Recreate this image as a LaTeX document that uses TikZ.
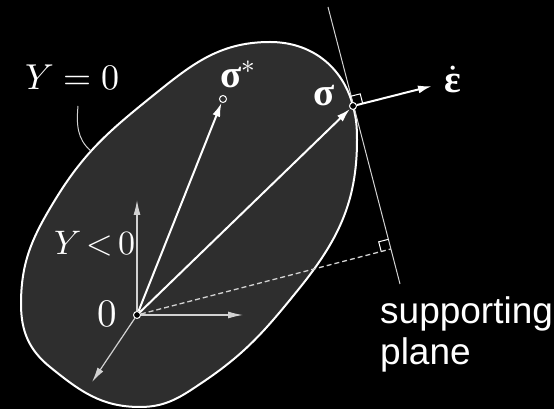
\documentclass[tikz,border=0pt]{standalone}
\usepackage{fontspec}
\usepackage{unicode-math}
\newfontfamily\labelsans{Liberation Sans}
\newfontfamily\grkbold{Liberation Serif}
\newcommand{\bsig}{\hbox{\grkbold\bfseries σ}}
\newcommand{\beps}{\hbox{\grkbold\bfseries ε}}
\usetikzlibrary{arrows.meta,calc}
\definecolor{shade}{HTML}{2E2E2E}
\definecolor{lgray}{HTML}{D2D2D2}
\begin{document}
\begin{tikzpicture}[x=1pt,y=1pt,
  bigmath/.style={font=\fontsize{36}{40}\selectfont, text=white, inner sep=0pt},
  boldmath/.style={font=\fontsize{39}{44}\selectfont, text=white, inner sep=0pt},
  sanslab/.style={font=\labelsans\fontsize{37}{41}\selectfont, text=white, inner sep=0pt},
  vec/.style={draw=white, line width=2pt, -{Latex[length=14pt,width=8pt]}},
  axis/.style={draw=lgray, line width=1.2pt, -{Latex[length=15pt,width=7pt]}},
  thinline/.style={draw=lgray, line width=1pt},
  dot/.style={circle, draw=white, fill=black, line width=1pt, minimum size=7pt, inner sep=0pt},
  hollow/.style={circle, draw=white, fill=shade, line width=1pt, minimum size=7pt, inner sep=0pt},
]
\path[use as bounding box, fill=black] (0,0) rectangle (554,409);
% yield surface
\coordinate (eA) at (140,2);
\coordinate (eA2) at (203,27);
\coordinate (eB) at (298,119);
\coordinate (eC) at (357,269);
\coordinate (S) at (353,303);
\coordinate (eE) at (270,367);
\coordinate (eF) at (150,311);
\coordinate (eG) at (55,209);
\coordinate (eH) at (21,105);
\coordinate (eI) at (50,42);
\draw[white, line width=2pt, fill=shade]
  (eA) to[out=0,in=214] (eA2) to[out=34,in=231] (eB) to[out=51,in=270] (eC)
  to[out=90,in=284.6] (S) to[out=104.6,in=0] (eE) to[out=180,in=38.9] (eF)
  to[out=218.9,in=58.6] (eG) to[out=238.6,in=90] (eH) to[out=270,in=141] (eI)
  to[out=-39,in=180] (eA) -- cycle;
% coordinates
\coordinate (O) at (137,94);
\coordinate (P1) at (328,402);
\coordinate (P2) at (400,125);
\coordinate (F) at ($(P1)!(O)!(P2)$);
\coordinate (E) at (432,323);
\coordinate (Xt) at (243,94);
\coordinate (Yt) at (137,209);
\coordinate (Zt) at (92,27);
\coordinate (L1) at (78,303);
\coordinate (L2) at (91,258);
% leader for Y=0
\draw[thinline] (L1) to[out=-95,in=140] (L2);
% supporting plane
\draw[thinline] (P1) -- (P2);
% dots
\node[dot] (o) at (O) {};
\node[dot] (s) at (S) {};
\node[hollow] (ss) at (223,310) {};
% dashed
\draw[thinline, line width=1.3pt, dash pattern=on 5pt off 3pt] (o) -- (F);
% axes
\draw[axis] (o) -- (Yt);
\draw[axis] (o) -- (Xt);
\draw[axis] (o) -- (Zt);
% vectors
\draw[vec] (o) -- (ss);
\draw[vec] (o) -- (s);
\draw[vec] (s) -- (E);
% right angle marks
\draw[white, line width=1pt] ($(S)!10pt!(E)$) -- ($($(S)!10pt!(E)$)!10pt!-90:(S)$) -- ($(S)!10pt!(P1)$);
\draw[white, line width=1pt] ($(F)!10pt!(O)$) -- ($($(F)!10pt!(O)$)!10pt!90:(F)$) -- ($(F)!10pt!(P1)$);
% labels
\node[bigmath, anchor=base west] (lab1) at (25,319) {$Y=0$};
\node[bigmath, anchor=base west, font=\fontsize{34}{38}\selectfont] (lab2) at (54,154) {$Y\mkern3mu{<}\mkern3mu0$};
\node[bigmath, anchor=base, font=\fontsize{39}{42}\selectfont] (lab0) at (107,82) {$0$};
\node[boldmath, anchor=base] (labs) at (324,303) {$\bsig$};
\node[boldmath, anchor=base west] (labss) at (220,321) {$\bsig^{*}$};
\node[boldmath, anchor=base] (labe) at (453,316) {$\dot{\beps}$};
\node[sanslab, anchor=base west] (labsp) at (380,85) {supporting};
\node[sanslab, anchor=base west] (labpl) at (380,44) {plane};
\end{tikzpicture}
\end{document}
